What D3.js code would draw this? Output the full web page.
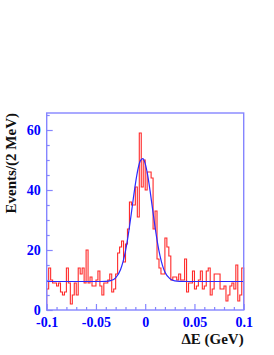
<!DOCTYPE html>
<html>
<head>
<meta charset="utf-8">
<script src="https://cdn.jsdelivr.net/npm/d3@7"></script>
<style>
html,body{margin:0;padding:0;background:#fff;}
svg{display:block;}
</style>
</head>
<body>
<svg id="chart" width="274" height="355"></svg>
<script>
// ---- data ----
const histRange = [-0.1, 0.1];
const counts = [
  7, 14, 10, 9, 9, 8, 9, 6, 5, 6,
  14, 9, 2, 5, 9, 5, 14, 12, 14, 9,
  20, 9, 11, 8, 8, 10, 13, 8, 5, 9,
  9, 10, 12, 6, 7, 12, 19, 21, 23, 16,
  22, 27, 36, 35, 35, 41, 31, 59, 41, 50,
  40, 46, 46, 44, 27, 33, 17, 14, 12, 12,
  24, 21, 18, 10, 11, 11, 10, 12, 10, 10,
  17, 6, 9, 9, 13, 7, 8, 10, 13, 7,
  8, 13, 14, 5, 7, 12, 12, 12, 7, 7,
  8, 3, 5, 8, 9, 7, 15, 3, 5, 14
];
const fitX = [-0.1, -0.05, -0.04, -0.035, -0.03, -0.025, -0.0225, -0.02, -0.0175, -0.015, -0.0125, -0.01, -0.0075, -0.005, -0.0025, 0, 0.0025, 0.005, 0.0075, 0.01, 0.0125, 0.015, 0.0175, 0.02, 0.025, 0.03, 0.035, 0.045, 0.1];
const fitY = [9.5, 9.5, 9.56, 9.8, 10.7, 13.5, 16.1, 19.7, 24.4, 30.0, 36.1, 41.9, 46.7, 49.7, 50.45, 48.8, 44.95, 39.6, 33.6, 27.7, 22.4, 18.1, 14.9, 12.7, 10.45, 9.72, 9.55, 9.5, 9.5];
const xTicks = [-0.1, -0.05, 0, 0.05, 0.1];
const xTickLabels = ["-0.1", "-0.05", "0", "0.05", "0.1"];
const xMinorTicks = [-0.09,-0.08,-0.07,-0.06,-0.04,-0.03,-0.02,-0.01,0.01,0.02,0.03,0.04,0.06,0.07,0.08,0.09];
const yTicks = [0, 20, 40, 60];
const yTickLabels = ["0", "20", "40", "60"];
const yMinorTicks = [5, 10, 15, 25, 30, 35, 45, 50, 55, 65];
const yMax = 65.67;
const xTitle = "\u0394E (GeV)";
const yTitle = "Events/(2 MeV)";

// ---- layout ----
const L = 46.7, R = 243.7, T = 113, B = 310;
const axisColor = "#8585ff";
const labelColor = "#0000ff";
const svg = d3.select("#chart");

const x = d3.scaleLinear().domain(histRange).range([L, R]);
const y = d3.scaleLinear().domain([0, yMax]).range([B, T]);

// histogram outline
const nb = counts.length;
const bw = (histRange[1] - histRange[0]) / nb;
const pts = [[x(histRange[0]), y(0)]];
counts.forEach((c, i) => {
  const x0 = histRange[0] + i * bw, x1 = x0 + bw;
  pts.push([x(x0), y(c)]);
  pts.push([x(x1), y(c)]);
});
pts.push([x(histRange[1]), y(0)]);
svg.append("path")
  .attr("d", d3.line()(pts))
  .attr("fill", "none")
  .attr("stroke", "#ff2a2a")
  .attr("stroke-width", 1.1);

// fit curve
svg.append("path")
  .datum(fitX.map((v, i) => [v, fitY[i]]))
  .attr("d", d3.line().x(d => x(d[0])).y(d => y(d[1])).curve(d3.curveMonotoneX))
  .attr("fill", "none")
  .attr("stroke", "#2a2aff")
  .attr("stroke-width", 1.2);

// frame
svg.append("rect")
  .attr("x", L).attr("y", T).attr("width", R - L).attr("height", B - T)
  .attr("fill", "none").attr("stroke", axisColor).attr("stroke-width", 1.4);

const font = "'Liberation Serif','Times New Roman',serif";

// x axis major
const gx = svg.append("g").attr("transform", `translate(0,${B})`)
  .call(d3.axisBottom(x).tickValues(xTicks).tickFormat((d, i) => xTickLabels[i]).tickSize(-6).tickPadding(7));
// x axis minor
const gxm = svg.append("g").attr("transform", `translate(0,${B})`)
  .call(d3.axisBottom(x).tickValues(xMinorTicks).tickFormat("").tickSize(-3));
// y axis major
const gy = svg.append("g").attr("transform", `translate(${L},0)`)
  .call(d3.axisLeft(y).tickValues(yTicks).tickFormat((d, i) => yTickLabels[i]).tickSize(-6).tickPadding(6));
const gym = svg.append("g").attr("transform", `translate(${L},0)`)
  .call(d3.axisLeft(y).tickValues(yMinorTicks).tickFormat("").tickSize(-3));

[gx, gxm, gy, gym].forEach(g => {
  g.select(".domain").remove();
  g.selectAll(".tick line").attr("stroke", axisColor).attr("stroke-width", 1.2);
  g.selectAll(".tick text")
    .attr("fill", labelColor)
    .style("font-family", font)
    .style("font-weight", "bold")
    .style("font-size", "14px");
});

// axis titles
svg.append("text")
  .attr("x", R).attr("y", 344)
  .attr("text-anchor", "end")
  .style("font-family", font).style("font-weight", "bold").style("font-size", "15px")
  .attr("fill", "#111")
  .text(xTitle);

svg.append("text")
  .attr("transform", `translate(15.5,${T}) rotate(-90)`)
  .attr("text-anchor", "end")
  .style("font-family", font).style("font-weight", "bold").style("font-size", "15px")
  .attr("fill", "#111")
  .text(yTitle);
</script>
</body>
</html>
